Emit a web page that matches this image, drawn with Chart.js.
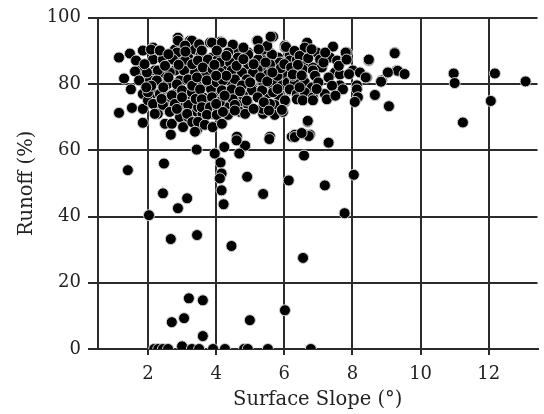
<!DOCTYPE html>
<html>
<head>
<meta charset="utf-8">
<script src="https://cdn.jsdelivr.net/npm/chart.js@4"></script>
<style>
  body { margin: 0; background: #fff; }
  canvas { display: block; }
</style>
</head>
<body>
<canvas id="slopeChart" width="544" height="414"></canvas>
<script>
// Runoff (%) against surface slope (deg)
// [slope, runoff] pairs, grouped by where they sit on the plot

// plots that gave (almost) no runoff
const zeroRunoff = [
  [2.18, 0], [2.3, 0], [2.44, 0], [2.59, 0], [3.0, 0.8], [3.29, 0], [3.5, 0],
  [3.91, 0], [4.26, 0], [4.82, 0], [4.93, 0], [5.52, 0], [6.78, 0]
];

// scattered points below the main cloud
const lowRunoff = [
  [2.03, 40.4], [2.67, 33.2], [3.44, 34.4], [4.45, 31.1], [3.2, 15.3], [3.61, 14.7],
  [3.06, 9.3], [2.7, 8.1], [3.61, 3.9], [4.99, 8.7], [6.02, 11.7], [6.55, 27.5],
  [7.77, 41], [2.88, 42.5], [3.15, 45.5], [2.44, 47], [1.41, 54], [2.47, 56],
  [3.43, 60.2], [3.96, 59], [4.24, 61], [4.13, 56.3], [4.16, 53], [4.11, 51.5],
  [4.16, 47.9], [4.22, 43.7], [4.91, 52], [5.38, 46.8], [5.56, 63.4], [4.85, 61.4],
  [4.68, 59], [4.6, 63], [6.58, 58.4], [6.13, 50.9], [7.19, 49.4], [8.04, 52.6],
  [7.3, 62.3], [6.31, 64], [6.72, 64.3], [6.51, 65.2], [6.69, 68.9]
];

// steeper plots to the right of the cloud
const steepRunoff = [
  [10.97, 83.2], [11.0, 80.3], [11.24, 68.4], [12.18, 83.2], [12.06, 74.9], [13.08, 80.8],
  [9.24, 89.3], [9.33, 84], [9.53, 83], [9.04, 83.5], [8.84, 80.7], [8.48, 87.4],
  [8.39, 82], [8.66, 76.7], [9.07, 73.3]
];

// main cloud, gentle slopes (about 1-3.5 deg)
const cloudWest = [
  [1.15, 88], [1.47, 89.2], [1.65, 87.1], [1.3, 81.7], [1.5, 78.4], [1.15, 71.3],
  [1.53, 72.8], [1.85, 68.3], [1.85, 72.5], [1.85, 90.1], [1.77, 84.1], [1.62, 83.8],
  [2.15, 91], [2.32, 90.1], [2.15, 87.4], [2.44, 87.4], [1.97, 82.9], [2.2, 84.1],
  [2.41, 83.5], [1.74, 81.1], [2.06, 81.1], [2.26, 81.1], [2.53, 79.6], [1.85, 77],
  [2.15, 77], [2.41, 77], [2.0, 75.1], [2.26, 74], [2.29, 71], [2.5, 68],
  [2.7, 68], [2.67, 64.7], [2.88, 94], [3.23, 93.1], [2.79, 90.4], [3.03, 91.6],
  [3.18, 88], [2.73, 87.4], [2.94, 87.1], [3.38, 91], [3.38, 84.1], [3.09, 84.1],
  [2.79, 84.1], [2.67, 80.5], [2.94, 81.1], [3.23, 81.1], [2.85, 77.5], [3.18, 77],
  [2.7, 75.4], [3.0, 74], [3.23, 73.7], [2.56, 73], [2.94, 70], [3.18, 70],
  [3.44, 71.6], [3.03, 67], [3.44, 66.2],
  [2.09, 90.4], [2.35, 90.1], [2.88, 93.1], [3.29, 93.1], [3.09, 91.6], [3.38, 90.4],
  [3.82, 92.5], [2.85, 89.5], [2.73, 87.4], [3.09, 87.1], [3.47, 87.4], [3.88, 88],
  [3.67, 85], [4.02, 84.4], [1.97, 83.5], [2.29, 84.1], [2.64, 83.5], [3.06, 84.1],
  [3.38, 83.5], [2.26, 81.1], [2.56, 79.9], [2.85, 79.9], [3.18, 81.4], [3.53, 81.1],
  [3.88, 81.4], [2.0, 77.5], [2.35, 77], [2.7, 76.6], [3.0, 78.1], [3.29, 77.5],
  [3.61, 76], [3.96, 77], [2.15, 74], [2.44, 73.7], [2.79, 74], [3.18, 73.7],
  [3.47, 73], [3.76, 73.7], [2.2, 71], [2.64, 71.6], [3.15, 71], [3.9, 71],
  [2.5, 85.5], [2.6, 82], [2.9, 85.8], [3.3, 86], [3.55, 89], [3.7, 83],
  [3.3, 79.5], [3.0, 76], [2.45, 79], [2.1, 79.5], [1.9, 86], [2.6, 89],
  [3.1, 89.8], [3.5, 92], [3.7, 79.5], [3.85, 78.5], [3.4, 75.5], [2.85, 72.5],
  [2.4, 75.5], [1.95, 79], [3.6, 71], [3.3, 68.5]
];

// main cloud, middle slopes (about 3.5-6 deg)
const cloudMiddle = [
  [4.14, 92.8], [3.88, 92.5], [5.2, 93.1], [5.67, 94.3], [6.02, 91], [3.58, 90.1],
  [4.41, 90.1], [4.64, 90.4], [4.94, 89.5], [5.35, 88.9], [5.58, 89.5], [5.82, 88],
  [6.16, 88.6], [3.47, 87.1], [3.76, 87.4], [4.05, 87.4], [4.35, 87.1], [4.61, 87.4],
  [4.99, 87.1], [5.23, 87.4], [5.67, 87.1], [5.96, 86.5], [3.61, 85], [3.9, 84.4],
  [4.2, 84.1], [4.49, 84.4], [4.85, 82.9], [5.14, 83.5], [5.43, 84.4], [5.72, 84.1],
  [6.07, 84.4], [3.44, 82], [3.73, 81.1], [4.02, 80.5], [4.35, 81.1], [4.61, 79.9],
  [5.08, 78.4], [5.35, 80.5], [5.67, 79.6], [5.96, 79.9], [3.53, 78.4], [4.17, 78.1],
  [4.46, 77], [4.79, 76.6], [5.52, 77], [5.82, 76.6], [3.58, 75.4], [3.88, 76],
  [4.17, 75.4], [5.23, 76], [3.58, 73], [3.82, 73], [4.05, 72.2], [4.35, 73],
  [4.64, 74], [4.94, 73.7], [5.72, 73.7], [6.02, 74.6], [3.73, 70.7], [4.02, 70.7],
  [4.35, 70.7], [4.7, 71.6], [5.38, 71], [5.72, 70.7], [5.96, 71.6], [3.47, 68.6],
  [3.67, 67.7], [3.9, 67], [4.17, 68], [3.38, 65.6], [4.61, 64.1], [5.58, 64.1],
  [6.22, 64.1],
  [5.22, 93.1], [4.17, 92.5], [4.49, 91.9], [6.02, 91.6], [4.02, 90.1], [4.35, 89.5],
  [4.64, 88], [4.94, 88.9], [5.38, 90.4], [5.64, 88.9], [5.87, 86.5], [6.16, 87.1],
  [4.11, 86.5], [4.41, 86.5], [4.94, 85.9], [5.22, 84.4], [5.58, 85.9], [4.11, 83.5],
  [4.46, 84.1], [4.76, 83.5], [5.08, 83.5], [5.52, 82.9], [6.07, 82.6], [4.2, 81.1],
  [4.55, 81.4], [4.9, 81.4], [5.38, 80.5], [5.72, 81.1], [5.93, 79.6], [4.17, 78.1],
  [4.46, 78.4], [4.76, 79.6], [5.05, 78.1], [5.35, 78.1], [5.67, 77.5], [6.16, 78.1],
  [4.11, 74.6], [4.49, 75.4], [4.79, 76.6], [5.22, 76], [5.58, 74], [6.02, 75.1],
  [4.2, 71.6], [4.55, 73.7], [4.85, 71], [5.35, 72.5], [5.93, 72.2],
  [4.3, 82.5], [4.6, 85.5], [4.8, 87.5], [5.1, 86], [5.3, 82], [5.5, 80.8],
  [5.8, 82.5], [5.9, 84.8], [5.0, 80.5], [4.7, 77.8], [4.9, 75], [5.4, 74.5],
  [5.1, 72.5], [5.55, 72], [5.8, 78.5], [6.1, 80.5], [6.0, 86], [5.5, 91.5],
  [4.8, 91], [4.3, 88.5], [3.95, 85.8], [4.0, 82.5], [4.25, 76.5], [4.55, 72],
  [4.0, 74], [5.25, 90.5], [5.65, 83.5], [5.45, 86.5]
];

// main cloud, eastern edge (about 6-8.5 deg)
const cloudEast = [
  [6.67, 92.5], [6.6, 91], [7.43, 91.3], [7.84, 89.5], [8.48, 87.1], [9.24, 89.5],
  [6.96, 89.5], [6.37, 87.4], [7.05, 87.4], [7.34, 88], [7.55, 87.1], [7.81, 87.4],
  [6.6, 86.5], [6.84, 85], [7.1, 85], [6.31, 82.9], [6.54, 84.4], [6.54, 82],
  [6.84, 84.1], [7.49, 83.5], [7.63, 82.9], [8.01, 84.1], [8.22, 83.5], [8.42, 82],
  [8.86, 81.1], [9.04, 83.5], [9.3, 84.1], [6.31, 80.5], [6.6, 80.5], [6.81, 79],
  [7.63, 79.6], [7.72, 78.4], [8.13, 79.6], [8.13, 78.4], [6.16, 78.4], [6.37, 77],
  [6.6, 77.5], [6.84, 76], [7.19, 77], [7.25, 75.4], [8.16, 76], [8.07, 74.6],
  [8.66, 76.6], [9.07, 73.3], [6.37, 75.4], [6.54, 75.1], [6.84, 75.1], [6.69, 68.6],
  [6.31, 64.7], [6.54, 65], [6.75, 64.7], [5.6, 94.3], [6.05, 91.2], [7.8, 89.5],
  [6.2, 85], [6.25, 82.5], [6.3, 90], [6.45, 88.5], [6.7, 87.8], [6.9, 82.5],
  [7.0, 80.5], [7.3, 82], [7.15, 86.5], [6.95, 78.5], [6.45, 79], [7.4, 79.5],
  [7.6, 85.5], [7.9, 83], [6.4, 85.8], [6.8, 90.5], [7.2, 89.5], [7.5, 76.5],
  [6.25, 82.9], [6.51, 82.6], [7.83, 87.4]
];

const tickFont = { family: 'DejaVu Serif', size: 18 };
const titleFont = { family: 'DejaVu Serif', size: 19.5 };
const gridColor = '#2b2b2b';

const allPoints = [...cloudWest, ...cloudMiddle, ...cloudEast, ...steepRunoff, ...lowRunoff, ...zeroRunoff]
  .map(p => ({ x: p[0], y: p[1] }));

const ctx = document.querySelector('#slopeChart').getContext('2d');
const slopeChart = new Chart(ctx, {
  type: 'scatter',
  data: {
    datasets: [{
      label: 'Runoff',
      data: allPoints,
      pointRadius: 5.5,
      pointBackgroundColor: '#000',
      pointBorderColor: '#d0d0d0', // light rim round each dot
      pointBorderWidth: 1
    }]
  },
  options: {
    responsive: false,
    animation: false,
    layout: { padding: { top: 15, left: 0, right: 0, bottom: 0 } },
    plugins: {
      legend: { display: false },
      tooltip: { enabled: false }
    },
    scales: {
      x: {
        type: 'linear',
        min: 0.534,
        max: 13.43, // figure is cropped on the right
        afterFit: scale => { scale.height = 65; },
        ticks: {
          stepSize: 2,
          includeBounds: false,
          padding: 9,
          color: '#222',
          font: tickFont
        },
        grid: { color: gridColor, lineWidth: 2, tickLength: 6 },
        border: { color: gridColor, width: 2 },
        title: {
          display: true,
          text: 'Surface Slope (°)',
          color: '#222',
          font: titleFont,
          padding: { top: 4, bottom: 2 }
        }
      },
      y: {
        min: 0,
        max: 100,
        afterFit: scale => { scale.width = 98; },
        ticks: {
          stepSize: 20,
          padding: 7,
          color: '#222',
          font: tickFont
        },
        grid: { color: gridColor, lineWidth: 2, tickLength: 10 },
        border: { color: gridColor, width: 2 },
        title: {
          display: true,
          text: 'Runoff (%)',
          color: '#222',
          font: titleFont,
          padding: { top: 15, bottom: 4 }
        }
      }
    }
  }
});
</script>
</body>
</html>
